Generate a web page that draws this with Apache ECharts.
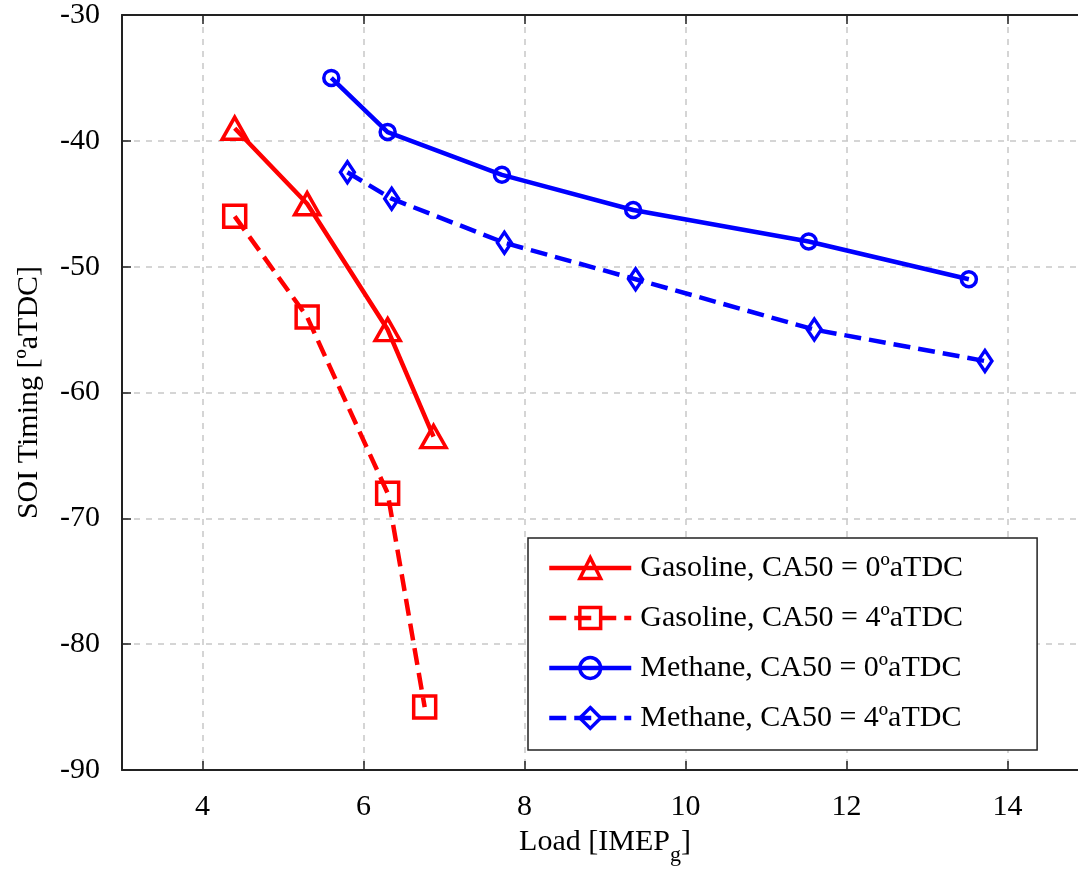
<!DOCTYPE html>
<html>
<head>
<meta charset="utf-8">
<script src="https://cdn.jsdelivr.net/npm/echarts@6/dist/echarts.min.js"></script>
<style>
html,body{margin:0;padding:0;background:#fff;}
#chart{width:1078px;height:871px;}
</style>
</head>
<body>
<div id="chart"></div>
<script>
// ---- data ----
const seriesNames = [
  'Gasoline, CA50 = 0ºaTDC',
  'Gasoline, CA50 = 4ºaTDC',
  'Methane, CA50 = 0ºaTDC',
  'Methane, CA50 = 4ºaTDC'
];
const gas0Load = [4.4, 5.3, 6.3, 6.87];
const gas0SOI  = [-39, -45, -55, -63.5];
const gas4Load = [4.4, 5.3, 6.3, 6.76];
const gas4SOI  = [-46, -54, -68, -85];
const met0Load = [5.6, 6.3, 7.72, 9.35, 11.53, 13.52];
const met0SOI  = [-35, -39.3, -42.7, -45.5, -48, -51];
const met4Load = [5.8, 6.35, 7.75, 9.38, 11.6, 13.72];
const met4SOI  = [-42.5, -44.6, -48.1, -51, -55, -57.5];
const xTicks = [4, 6, 8, 10, 12, 14];

function pairs(xs, ys) { return xs.map((x, i) => [x, ys[i]]); }

const RED = '#ff0000';
const BLUE = '#0000ff';
const FONT = '"Liberation Serif", "Times New Roman", serif';
const DASH = [17, 8];

function lineSeries(name, xs, ys, color, dashed, symbol, size) {
  return {
    type: 'line',
    name: name,
    data: pairs(xs, ys),
    symbol: symbol,
    symbolSize: size,
    showAllSymbol: true,
    lineStyle: { color: color, width: 4.5, type: dashed ? DASH : 'solid', cap: 'butt' },
    itemStyle: { color: 'rgba(0,0,0,0)', borderColor: color, borderWidth: 3.5 },
    emphasis: { disabled: true },
    z: 5
  };
}

function legendItem(i, color, dashed) {
  return {
    name: seriesNames[i],
    lineStyle: { color: color, width: 4.5, type: dashed ? DASH : 'solid' },
    itemStyle: { color: 'rgba(0,0,0,0)', borderColor: color, borderWidth: 3.5 }
  };
}

const chart = echarts.init(document.getElementById('chart'), null, { renderer: 'canvas' });
const option = {
  backgroundColor: '#fff',
  animation: false,
  textStyle: { fontFamily: FONT, color: '#000' },
  grid: { left: 122, top: 15, width: 966, height: 755, containLabel: false, outerBoundsMode: 'none' },
  xAxis: [{
    type: 'value', min: 3, max: 15,
    name: 'Load [IMEP{sub|g}]',
    nameLocation: 'middle', nameGap: 48,
    nameTextStyle: {
      fontFamily: FONT, fontSize: 30, color: '#000',
      rich: { sub: { fontFamily: FONT, fontSize: 22, color: '#000', verticalAlign: 'bottom', padding: [26, 0, 0, 0] } }
    },
    axisLine: { show: true, lineStyle: { color: '#222', width: 2 } },
    axisTick: { show: true, inside: true, length: 9, customValues: xTicks, lineStyle: { color: '#222', width: 1.5 } },
    axisLabel: { customValues: xTicks, fontFamily: FONT, fontSize: 30, color: '#000', margin: 22 },
    splitLine: { show: true, lineStyle: { color: '#c8c8c8', width: 1.5, type: [6, 6] } }
  }, {
    type: 'value', min: 3, max: 15, position: 'top',
    axisLine: { show: true, onZero: false, lineStyle: { color: '#222', width: 2 } },
    axisTick: { show: true, inside: true, length: 9, customValues: xTicks, lineStyle: { color: '#222', width: 1.5 } },
    axisLabel: { show: false },
    splitLine: { show: false }
  }],
  yAxis: [{
    type: 'value', min: -90, max: -30, interval: 10,
    name: 'SOI Timing [ºaTDC]',
    nameLocation: 'middle', nameGap: 78, nameRotate: 90,
    nameTextStyle: { fontFamily: FONT, fontSize: 30, color: '#000' },
    axisLine: { show: true, onZero: false, lineStyle: { color: '#222', width: 2 } },
    axisTick: { show: true, inside: true, length: 9, lineStyle: { color: '#222', width: 1.5 } },
    axisLabel: { fontFamily: FONT, fontSize: 30, color: '#000', margin: 22 },
    splitLine: { show: true, lineStyle: { color: '#c8c8c8', width: 1.5, type: [6, 6] } }
  }],
  legend: {
    orient: 'vertical',
    left: 528, top: 538,
    data: [
      legendItem(0, RED, false),
      legendItem(1, RED, true),
      legendItem(2, BLUE, false),
      legendItem(3, BLUE, true)
    ],
    itemWidth: 82, itemHeight: 26, itemGap: 20,
    padding: [15, 74, 17, 19],
    backgroundColor: '#fff',
    borderColor: '#222', borderWidth: 1.5,
    textStyle: { fontFamily: FONT, fontSize: 30, color: '#000', padding: [0, 0, 0, 4] },
    selectedMode: false
  },
  series: [
    lineSeries(seriesNames[0], gas0Load, gas0SOI, RED, false, 'triangle', [25, 22]),
    lineSeries(seriesNames[1], gas4Load, gas4SOI, RED, true, 'rect', [22, 22]),
    lineSeries(seriesNames[2], met0Load, met0SOI, BLUE, false, 'circle', 15),
    lineSeries(seriesNames[3], met4Load, met4SOI, BLUE, true, 'diamond', [14, 21])
  ]
};
chart.setOption(option);
</script>
</body>
</html>
